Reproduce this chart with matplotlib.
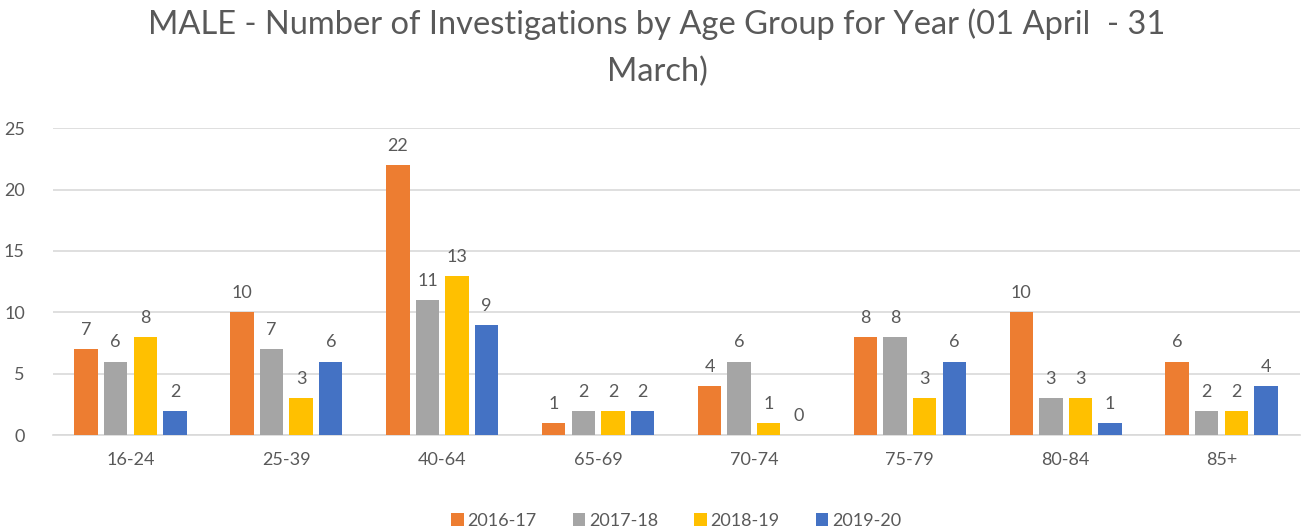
import numpy as np
import matplotlib.pyplot as plt

plt.rcParams['font.family'] = ['Lato', 'DejaVu Sans']

age_groups = ["16-24", "25-39", "40-64", "65-69", "70-74", "75-79", "80-84", "85+"]
years = ["2016-17", "2017-18", "2018-19", "2019-20"]
v_2016 = [7, 10, 22, 1, 4, 8, 10, 6]
v_2017 = [6, 7, 11, 2, 6, 8, 3, 2]
v_2018 = [8, 3, 13, 2, 1, 3, 3, 2]
v_2019 = [2, 6, 9, 2, 0, 6, 1, 4]
series = [v_2016, v_2017, v_2018, v_2019]
colours = ["#ED7D31", "#A5A5A5", "#FFC000", "#4472C4"]

txt = "#595959"
fig = plt.figure(figsize=(13.14, 5.32), dpi=100)
ax = fig.add_axes([0.040, 0.182, 0.949, 0.577])

x = np.arange(len(age_groups))
w = 0.15
step = 0.19
for i, (vals, c, lab) in enumerate(zip(series, colours, years)):
    pos = x + (i - 1.5) * step
    ax.bar(pos, vals, width=w, color=c, label=lab, zorder=3)
    for p, v in zip(pos, vals):
        ax.text(p, v + 0.9, str(v), ha="center", va="bottom", fontsize=13, color=txt)

ax.set_xlim(-0.5, len(age_groups) - 0.5)
ax.set_ylim(0, 25)
ax.set_yticks(range(0, 26, 5))
ax.set_xticks(x)
ax.set_xticklabels(age_groups)
ax.tick_params(axis="both", length=0, colors=txt, labelsize=13)
ax.tick_params(axis="x", pad=12)
ax.tick_params(axis="y", pad=20)
ax.grid(axis="y", color="#D9D9D9", lw=1.2, zorder=0)
for s in ["top", "right", "left"]:
    ax.spines[s].set_visible(False)
ax.spines["bottom"].set_color("#D9D9D9")
ax.spines["bottom"].set_linewidth(1.2)

fig.suptitle("MALE - Number of Investigations by Age Group for Year (01 April  - 31\nMarch)",
             y=0.985, fontsize=23.5, color=txt, linespacing=1.7)

ax.legend(loc="upper center", bbox_to_anchor=(0.5, -0.2), ncol=4, frameon=False,
          fontsize=13, handlelength=0.7, handleheight=0.7, handletextpad=0.2,
          columnspacing=2.0, labelcolor=txt)

fig.savefig("out.png", dpi=100)
